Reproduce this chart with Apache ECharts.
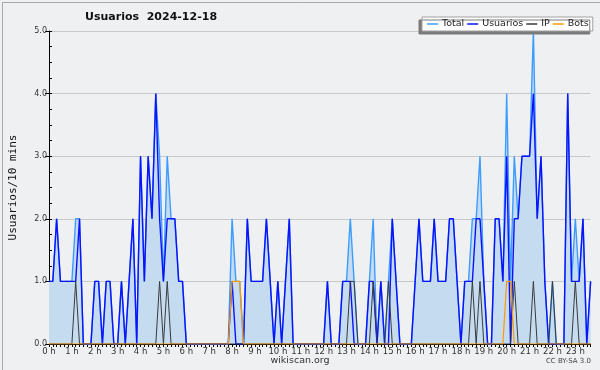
<!DOCTYPE html>
<html>
<head>
<meta charset="utf-8">
<script src="https://cdn.jsdelivr.net/npm/echarts@6/dist/echarts.min.js"></script>
<style>
  html, body { margin: 0; padding: 0; background: #eff0f2; }
  #chart { width: 600px; height: 370px; }
</style>
</head>
<body>
<div id="chart"></div>
<script>
// 10-minute slots 00:00 .. 23:40 (143 points)
var hourLabels = ["0 h","1 h","2 h","3 h","4 h","5 h","6 h","7 h","8 h","9 h","10 h","11 h",
                  "12 h","13 h","14 h","15 h","16 h","17 h","18 h","19 h","20 h","21 h","22 h","23 h"];

var totalVals = [
  1,1,2,1,1,1,1,2,2,0, 0,0,1,1,0,1,1,0,0,1, 0,1,2,0,3,1,3,2,4,3,
  1,3,2,2,1,1,0,0,0,0, 0,0,0,0,0,0,0,0,2,1, 1,0,2,1,1,1,1,2,1,0,
  1,0,1,2,0,0,0,0,0,0, 0,0,0,1,0,0,0,1,1,2, 1,0,0,0,1,2,0,1,0,1,
  2,1,0,0,0,0,1,2,1,1, 1,2,1,1,1,2,2,1,0,1, 1,2,2,3,1,0,0,2,2,1,
  4,1,3,2,3,3,3,5,2,3, 1,0,1,0,0,0,4,1,2,1, 2,0,1
];
var usuariosVals = [
  1,1,2,1,1,1,1,1,2,0, 0,0,1,1,0,1,1,0,0,1, 0,1,2,0,3,1,3,2,4,2,
  1,2,2,2,1,1,0,0,0,0, 0,0,0,0,0,0,0,0,1,0, 0,0,2,1,1,1,1,2,1,0,
  1,0,1,2,0,0,0,0,0,0, 0,0,0,1,0,0,0,1,1,1, 0,0,0,0,1,1,0,1,0,0,
  2,1,0,0,0,0,1,2,1,1, 1,2,1,1,1,2,2,1,0,1, 1,1,2,2,1,0,0,2,2,1,
  3,0,2,2,3,3,3,4,2,3, 1,0,0,0,0,0,4,1,1,1, 2,0,1
];
var ipVals = [
  0,0,0,0,0,0,0,1,0,0, 0,0,0,0,0,0,0,0,0,0, 0,0,0,0,0,0,0,0,0,1,
  0,1,0,0,0,0,0,0,0,0, 0,0,0,0,0,0,0,0,0,0, 0,0,0,0,0,0,0,0,0,0,
  0,0,0,0,0,0,0,0,0,0, 0,0,0,0,0,0,0,0,0,1, 1,0,0,0,0,1,0,0,0,1,
  0,0,0,0,0,0,0,0,0,0, 0,0,0,0,0,0,0,0,0,0, 0,1,0,1,0,0,0,0,0,0,
  0,0,1,0,0,0,0,1,0,0, 0,0,1,0,0,0,0,0,1,0, 0,0,0
];
var botsVals = [
  0,0,0,0,0,0,0,0,0,0, 0,0,0,0,0,0,0,0,0,0, 0,0,0,0,0,0,0,0,0,0,
  0,0,0,0,0,0,0,0,0,0, 0,0,0,0,0,0,0,0,1,1, 1,0,0,0,0,0,0,0,0,0,
  0,0,0,0,0,0,0,0,0,0, 0,0,0,0,0,0,0,0,0,0, 0,0,0,0,0,0,0,0,0,0,
  0,0,0,0,0,0,0,0,0,0, 0,0,0,0,0,0,0,0,0,0, 0,0,0,0,0,0,0,0,0,0,
  1,1,0,0,0,0,0,0,0,0, 0,0,0,0,0,0,0,0,0,0, 0,0,0
];
var yTicks = [0, 1, 2, 3, 4, 5];
var seriesNames = ["Total", "Usuarios", "IP", "Bots"];

// one category per 10-minute slot, hour label on every 6th
var categories = [];
for (var i = 0; i < totalVals.length; i++) {
  categories.push(i % 6 === 0 ? hourLabels[i / 6] : "");
}

var chart = echarts.init(document.getElementById('chart'), null, {renderer: 'canvas'});
var font = 'DejaVu Sans';
chart.setOption({
  backgroundColor: '#eff0f2',
  animation: false,
  title: {
    text: 'Usuarios  2024-12-18',
    left: 80, top: 7,
    textStyle: { fontFamily: font, fontSize: 11, fontWeight: 'bold', color: '#111' }
  },
  legend: {
    data: seriesNames,
    left: 422, top: 17,
    padding: [2, 4, 2, 5],
    itemGap: 3,
    itemWidth: 11, itemHeight: 1.5,
    icon: 'rect',
    backgroundColor: '#ffffff',
    borderColor: '#a0a0a0', borderWidth: 1,
    shadowColor: '#7a7a7a', shadowBlur: 0, shadowOffsetX: -3, shadowOffsetY: 3,
    textStyle: { fontFamily: font, fontSize: 9.5, color: '#222', padding: [0, 0, 0, -1] }
  },
  grid: { left: 46.7, right: 9.4, top: 31, bottom: 26 },
  xAxis: {
    type: 'category',
    data: categories,
    boundaryGap: false,
    axisLine: { lineStyle: { color: '#000', width: 1 } },
    axisTick: { show: true, interval: 0, length: 3, lineStyle: { color: '#000' } },
    axisLabel: { interval: 5, fontFamily: font, fontSize: 8.5, color: '#333', margin: 3 },
    splitLine: { show: false }
  },
  yAxis: [{
    type: 'value',
    min: yTicks[0], max: yTicks[yTicks.length - 1], interval: 1,
    name: 'Usuarios/10 mins',
    nameLocation: 'middle', nameRotate: 90, nameGap: 30,
    nameTextStyle: { fontFamily: 'DejaVu Sans Mono', fontSize: 11, color: '#111' },
    axisLine: { show: true, lineStyle: { color: '#000' } },
    axisTick: { show: true, length: 4, lineStyle: { color: '#000' } },
    axisLabel: { fontFamily: font, fontSize: 8, color: '#333', margin: 2,
                 formatter: function (v) { return v.toFixed(1); } },
    splitLine: { show: true, lineStyle: { color: '#c8c8c8', width: 1 } }
  }, {
    type: 'value',
    min: yTicks[0], max: yTicks[yTicks.length - 1], interval: 0.25,
    position: 'left',
    axisLine: { show: false },
    axisTick: { show: true, inside: true, length: 3, lineStyle: { color: '#000' } },
    axisLabel: { show: false },
    splitLine: { show: false }
  }],
  series: [{
    name: seriesNames[0], type: 'line', data: totalVals,
    symbol: 'none', z: 2,
    itemStyle: { color: '#3d9cff' },
    lineStyle: { color: '#3d9cff', width: 1.4 },
    areaStyle: { color: '#c5dcf0', opacity: 1 }
  }, {
    name: seriesNames[1], type: 'line', data: usuariosVals,
    symbol: 'none', z: 3,
    itemStyle: { color: '#0a12ff' },
    lineStyle: { color: '#0a12ff', width: 1.4 }
  }, {
    name: seriesNames[2], type: 'line', data: ipVals,
    symbol: 'none', z: 4,
    itemStyle: { color: '#3a3a3a' },
    lineStyle: { color: '#3a3a3a', width: 1 }
  }, {
    name: seriesNames[3], type: 'line', data: botsVals,
    symbol: 'none', z: 5,
    itemStyle: { color: '#ff9900' },
    lineStyle: { color: '#ff9900', width: 1.2 }
  }],
  graphic: [{
    type: 'rect', left: 0, top: 0, silent: true, z: -1,
    shape: { x: 0.5, y: 0.5, width: 599, height: 369 },
    style: { fill: 'none', stroke: '#a8a8a8', lineWidth: 1 }
  }, {
    type: 'text', left: 'center', top: 356,
    style: { text: 'wikiscan.org', font: '9.5px "DejaVu Sans"', fill: '#333' }
  }, {
    type: 'text', right: 9, top: 358,
    style: { text: 'CC BY-SA 3.0', font: '7px "DejaVu Sans"', fill: '#444' }
  }]
});
</script>
</body>
</html>
